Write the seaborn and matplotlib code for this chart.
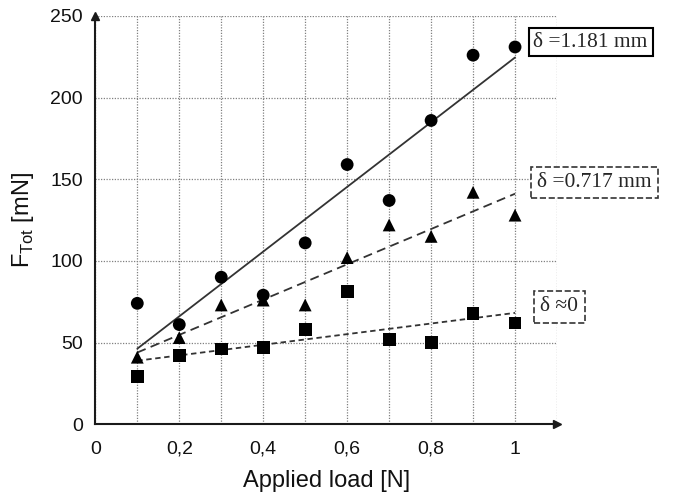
import numpy as np
import pandas as pd
import matplotlib
matplotlib.use("Agg")
import matplotlib.pyplot as plt
from matplotlib.ticker import MultipleLocator, FixedLocator
import seaborn as sns

# applied load [N]
load = [0.1, 0.2, 0.3, 0.4, 0.5, 0.6, 0.7, 0.8, 0.9, 1.0]

# F_Tot [mN] for each gap
f_1181 = [74, 61, 90, 79, 111, 159, 137, 186, 226, 231]
f_0717 = [41, 53, 73, 76, 73, 102, 122, 115, 142, 128]
f_0 = [29, 42, 46, 47, 58, 81, 52, 50, 68, 62]

series = ["δ =1.181 mm", "δ =0.717 mm", "δ ≈0"]
markers = {"δ =1.181 mm": "o", "δ =0.717 mm": "^", "δ ≈0": "s"}

df = pd.DataFrame({
    "load": load * 3,
    "F": f_1181 + f_0717 + f_0,
    "gap": np.repeat(series, len(load)),
})

sns.set_style("white")
plt.rcParams["font.family"] = ["Liberation Sans", "DejaVu Sans"]

fig = plt.figure(figsize=(6.76, 4.99), dpi=100)
ax = fig.add_axes([0.141, 0.150, 0.683, 0.818])

line_styles = {"δ =1.181 mm": "-", "δ =0.717 mm": (0, (5, 3)), "δ ≈0": (0, (3, 2))}
for g in series:
    sub = df[df["gap"] == g]
    sns.regplot(data=sub, x="load", y="F", ax=ax, ci=None, scatter=False,
                truncate=True, color="#333333",
                line_kws={"lw": 1.3, "ls": line_styles[g]})

sns.scatterplot(data=df, x="load", y="F", style="gap", markers=markers,
                color="black", s=85, edgecolor="black", linewidth=0,
                legend=False, ax=ax, zorder=4)

ax.set_xlim(0, 1.1)
ax.set_ylim(0, 250)
ax.xaxis.set_major_locator(FixedLocator([0, 0.2, 0.4, 0.6, 0.8, 1.0]))
ax.xaxis.set_minor_locator(MultipleLocator(0.1))
ax.yaxis.set_major_locator(MultipleLocator(50))
ax.set_xticklabels(["0", "0,2", "0,4", "0,6", "0,8", "1"])

ax.grid(which="both", axis="x", color="#808080", ls=(0, (1, 1.2)), lw=0.9)
ax.grid(which="major", axis="y", color="#808080", ls=(0, (1, 1.2)), lw=0.9)
ax.set_axisbelow(True)

for side in ["top", "right"]:
    ax.spines[side].set_visible(False)
for side in ["left", "bottom"]:
    ax.spines[side].set_color("#1a1a1a")
    ax.spines[side].set_linewidth(1.5)

# arrow heads at spine ends
ax.plot(1, 0, ">", color="#1a1a1a", ms=6, transform=ax.transAxes, clip_on=False)
ax.plot(0, 1, "^", color="#1a1a1a", ms=6, transform=ax.transAxes, clip_on=False)

ax.tick_params(axis="y", which="major", direction="out", length=5, width=1.2,
               color="#1a1a1a", labelsize=14, pad=4, labelcolor="#111111")
ax.tick_params(axis="x", which="major", direction="inout", length=6, width=1.0,
               color="#1a1a1a", labelsize=14, pad=9, labelcolor="#111111")
ax.tick_params(axis="x", which="minor", length=0)

ax.set_xlabel("Applied load [N]", fontsize=17, labelpad=9, color="#111111")
ax.set_ylabel("F$_{\\mathregular{Tot}}$ [mN]", fontsize=17, labelpad=10,
              color="#111111")

serif = ["Liberation Serif", "DejaVu Serif"]
ax.text(1.18, 234, series[0], family=serif, fontsize=15.5, ha="center", va="center",
        clip_on=False, bbox=dict(boxstyle="square,pad=0.22", fc="white",
                                 ec="black", lw=1.5))
ax.text(1.19, 148, series[1], family=serif, fontsize=15.5, ha="center", va="center",
        clip_on=False, bbox=dict(boxstyle="square,pad=0.28", fc="white",
                                 ec="#333333", lw=1.2, ls="--"))
ax.text(1.105, 72, series[2], family=serif, fontsize=15.5, ha="center", va="center",
        clip_on=False, bbox=dict(boxstyle="square,pad=0.3", fc="white",
                                 ec="#333333", lw=1.2, ls="--"))

fig.savefig("out.png", dpi=100)
